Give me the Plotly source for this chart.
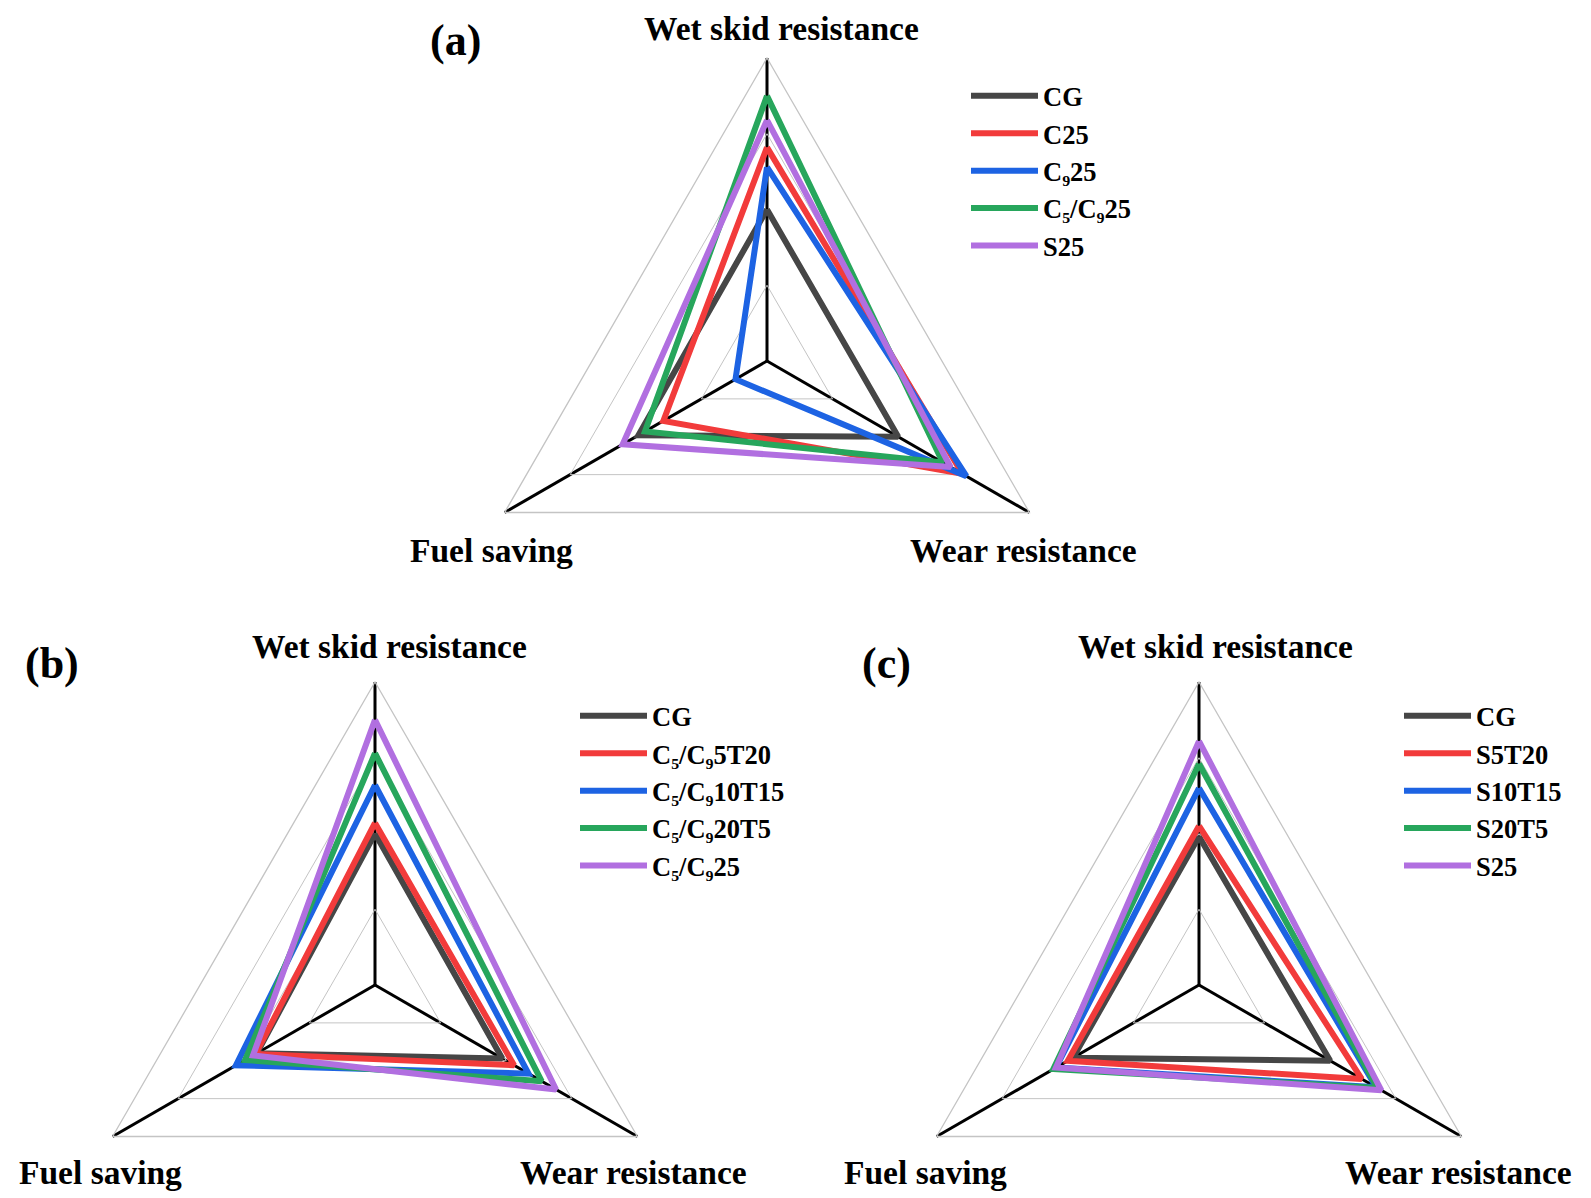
import plotly.graph_objects as go

W, H = 1591, 1290
OFF = 8  # page body margin offset

# ---------------- data ----------------
axes_labels = ["Wet skid resistance", "Wear resistance", "Fuel saving"]

names_a = ["CG", "C25", "C₉25", "C₅/C₉25", "S25"]
vals_a_cg = [50, 50, 49]
vals_a_c25 = [70.5, 74.5, 39.5]
vals_a_c925 = [64, 76, 12]
vals_a_c5c925 = [87.5, 67, 46.5]
vals_a_s25 = [79.5, 70, 55]

names_b = ["CG", "C₅/C₉5T20", "C₅/C₉10T15", "C₅/C₉20T5", "C₅/C₉25"]
vals_b_cg = [50, 48.5, 45]
vals_b_5t20 = [53.5, 53, 45.5]
vals_b_10t15 = [66, 58.5, 53]
vals_b_20t5 = [76.5, 63.5, 49.5]
vals_b_25 = [87.5, 69, 46.5]

names_c = ["CG", "S5T20", "S10T15", "S20T5", "S25"]
vals_c_cg = [49, 50, 48]
vals_c_s5t20 = [52.5, 62, 50]
vals_c_s10t15 = [65, 67.5, 54.5]
vals_c_s20t5 = [73, 68, 55.5]
vals_c_s25 = [80.5, 69.5, 54.5]

colors = ["#464646", "#f23b3b", "#1d63e3", "#27a65c", "#b16fe0"]

panels = [
    ("polar", "legend", names_a, [vals_a_cg, vals_a_c25, vals_a_c925, vals_a_c5c925, vals_a_s25]),
    ("polar2", "legend2", names_b, [vals_b_cg, vals_b_5t20, vals_b_10t15, vals_b_20t5, vals_b_25]),
    ("polar3", "legend3", names_c, [vals_c_cg, vals_c_s5t20, vals_c_s10t15, vals_c_s20t5, vals_c_s25]),
]

FONT = "Liberation Serif"

fig = go.Figure()
for subplot, legend, names, series in panels:
    for name, vals, col in zip(names, series, colors):
        fig.add_trace(go.Scatterpolar(
            r=vals + vals[:1],
            theta=axes_labels + axes_labels[:1],
            mode="lines",
            name=name,
            line=dict(color=col, width=6),
            subplot=subplot,
            legend=legend,
        ))

# ---------------- layout ----------------
R = 303
centers = {"polar": (767, 361), "polar2": (375, 985), "polar3": (1199, 985)}


def polar_layout(cx, cy):
    cx -= OFF
    cy -= OFF
    return dict(
        domain=dict(x=[(cx - R) / W, (cx + R) / W],
                    y=[(H - cy - R) / H, (H - cy + R) / H]),
        gridshape="linear",
        bgcolor="rgba(0,0,0,0)",
        radialaxis=dict(range=[0, 100], tickvals=[25, 50, 75, 100], showticklabels=False,
                        ticks="", showline=False, gridcolor="#c4c4c4", gridwidth=1.3),
        angularaxis=dict(direction="clockwise", rotation=90, showticklabels=False, ticks="",
                         gridcolor="#000000", gridwidth=2.5, showline=True,
                         linecolor="#c4c4c4", linewidth=1.3),
    )


layout = dict(
    width=W, height=H,
    margin=dict(l=0, r=0, t=0, b=0),
    paper_bgcolor="white",
    font=dict(family=FONT, color="black"),
)
for k, (cx, cy) in centers.items():
    layout[k] = polar_layout(cx, cy)


def legend_layout(xpix, ypix):
    return dict(x=(xpix - OFF) / W, y=1 - (ypix - OFF) / H, xanchor="left", yanchor="top",
                bgcolor="rgba(0,0,0,0)", itemwidth=67, tracegroupgap=0,
                font=dict(family=FONT, size=26.5, color="black", weight="bold"))


layout["legend"] = legend_layout(966, 72)
layout["legend2"] = legend_layout(575, 692)
layout["legend3"] = legend_layout(1399, 692)
fig.update_layout(**layout)

ann = []


def txt(xpix, ypix, s, size):
    ann.append(dict(x=(xpix - OFF) / W, y=1 - (ypix - OFF) / H, xref="paper", yref="paper", text=s,
                    showarrow=False, xanchor="center", yanchor="middle",
                    font=dict(family=FONT, size=size, color="black", weight="bold")))


label_pos = [
    [(781, 28), (1023, 550), (491, 550)],
    [(389, 646), (633, 1172), (100, 1172)],
    [(1215, 646), (1458, 1172), (925, 1172)],
]
for pos in label_pos:
    for (x, y), s in zip(pos, axes_labels):
        txt(x, y, s, 33.5)

txt(455, 41, "(a)", 44)
txt(52, 663, "(b)", 44)
txt(886, 663, "(c)", 44)

fig.update_layout(annotations=ann)
fig.write_html("out.html")
